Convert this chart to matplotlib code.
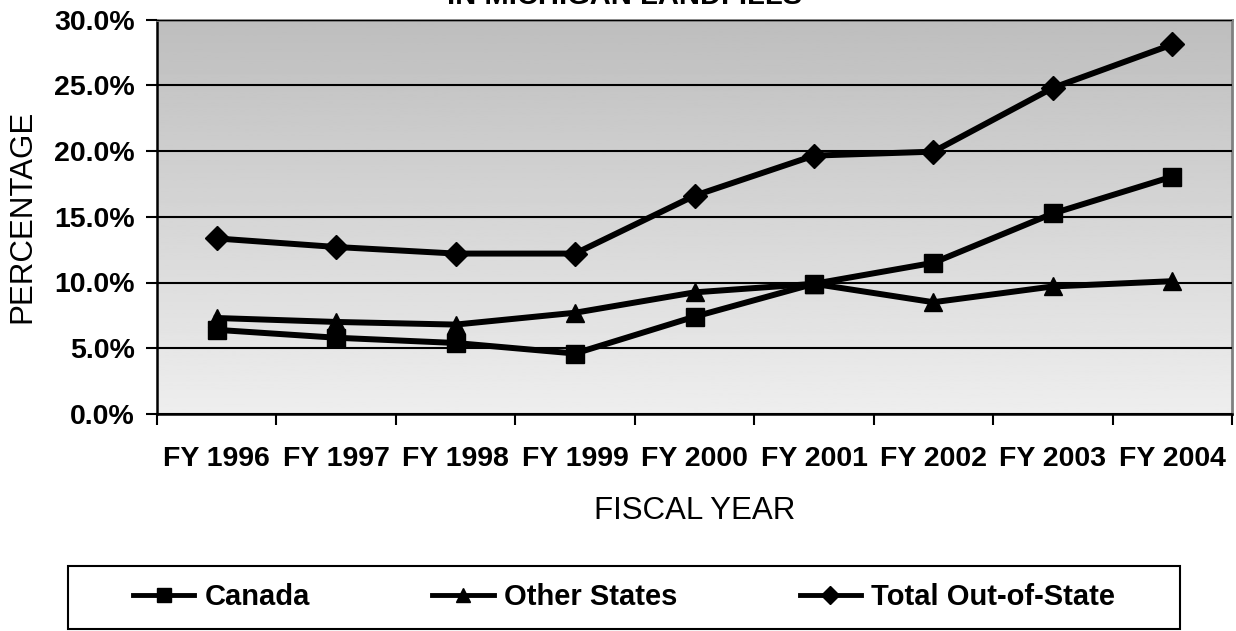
import numpy as np
import matplotlib
matplotlib.use("Agg")
import matplotlib.pyplot as plt
from matplotlib.lines import Line2D
from matplotlib.patches import Rectangle

plt.rcParams['font.family'] = ['Liberation Sans', 'DejaVu Sans']

# values (percent)
years = ['FY 1996', 'FY 1997', 'FY 1998', 'FY 1999', 'FY 2000',
         'FY 2001', 'FY 2002', 'FY 2003', 'FY 2004']
canada = [6.4, 5.8, 5.4, 4.6, 7.4, 9.9, 11.5, 15.25, 18.05]
other_states = [7.3, 7.0, 6.8, 7.7, 9.25, 9.9, 8.5, 9.7, 10.1]
total_out = [13.35, 12.7, 12.2, 12.2, 16.6, 19.65, 19.95, 24.8, 28.1]
y_ticks = [0, 5, 10, 15, 20, 25, 30]

W, H = 1236, 631
fig = plt.figure(figsize=(W / 100, H / 100), dpi=100)
ax = fig.add_axes([157 / W, 1 - 414 / H, (1232 - 157) / W, (414 - 19.5) / H])

# gray gradient background of the plot area
grad = np.linspace(0, 1, 256).reshape(-1, 1)
ax.imshow(grad, extent=[0, 1, 0, 1], transform=ax.transAxes, aspect='auto',
          cmap='gray', vmin=-3.9, vmax=1.35, zorder=0, origin='upper')

x = np.arange(len(years))
series = [
    (canada, 's', 'Canada'),
    (other_states, '^', 'Other States'),
    (total_out, 'D', 'Total Out-of-State'),
]
for vals, mk, name in series:
    ms = 12 if mk == 'D' else 13.5
    ax.plot(x, vals, color='black', lw=4.3, marker=mk, ms=ms,
            solid_joinstyle='miter', zorder=3, label=name)

ax.set_xlim(-0.5, len(years) - 0.5)
ax.set_ylim(0, 30)
ax.set_yticks(y_ticks)
ax.set_yticklabels([f'{v:.1f}%' for v in y_ticks], fontsize=20.5, fontweight='bold')
ax.yaxis.grid(True, color='black', lw=1.5, zorder=1)
ax.set_axisbelow(False)

ax.set_xticks(x)
ax.set_xticklabels(years, fontsize=20.5, fontweight='bold')
ax.set_xticks(np.arange(-0.5, len(years)), minor=True)
ax.tick_params(axis='x', which='major', length=0, pad=23)
ax.tick_params(axis='x', which='minor', length=8, width=1.5, direction='out')
ax.tick_params(axis='y', length=8, width=1.5, direction='out', pad=8)

for side in ['left', 'bottom']:
    ax.spines[side].set_linewidth(1.8)
    ax.spines[side].set_color('black')
for side in ['top', 'right']:
    ax.spines[side].set_linewidth(2)
    ax.spines[side].set_color('#808080')

ax.set_ylabel('PERCENTAGE', fontsize=22.5, labelpad=12)
ax.set_xlabel('FISCAL YEAR', fontsize=22.5, labelpad=17)

# cut-off title (only the second line shows at the top edge)
fig.text(0.505, 1 - 4 / H, 'IN MICHIGAN LANDFILLS', ha='center', va='baseline',
         fontsize=21, fontweight='bold')

# legend with its own box
fig.patches.append(Rectangle((68 / W, 1 - 629 / H), (1180 - 68) / W, (629 - 566) / H,
                             transform=fig.transFigure, facecolor='white',
                             edgecolor='black', lw=1.5, zorder=0))
handles = [Line2D([], [], color='black', lw=3.5, marker=mk,
                  ms=9 if mk == 'D' else 10) for _, mk, _ in series]
fig.legend(handles, [s[2] for s in series], loc='center',
           bbox_to_anchor=(624 / W, 1 - 597 / H), ncol=3, frameon=False,
           prop={'size': 21, 'weight': 'bold'}, handlelength=2.1,
           handletextpad=0.35, columnspacing=4.2)

fig.savefig('out.png', dpi=100)
